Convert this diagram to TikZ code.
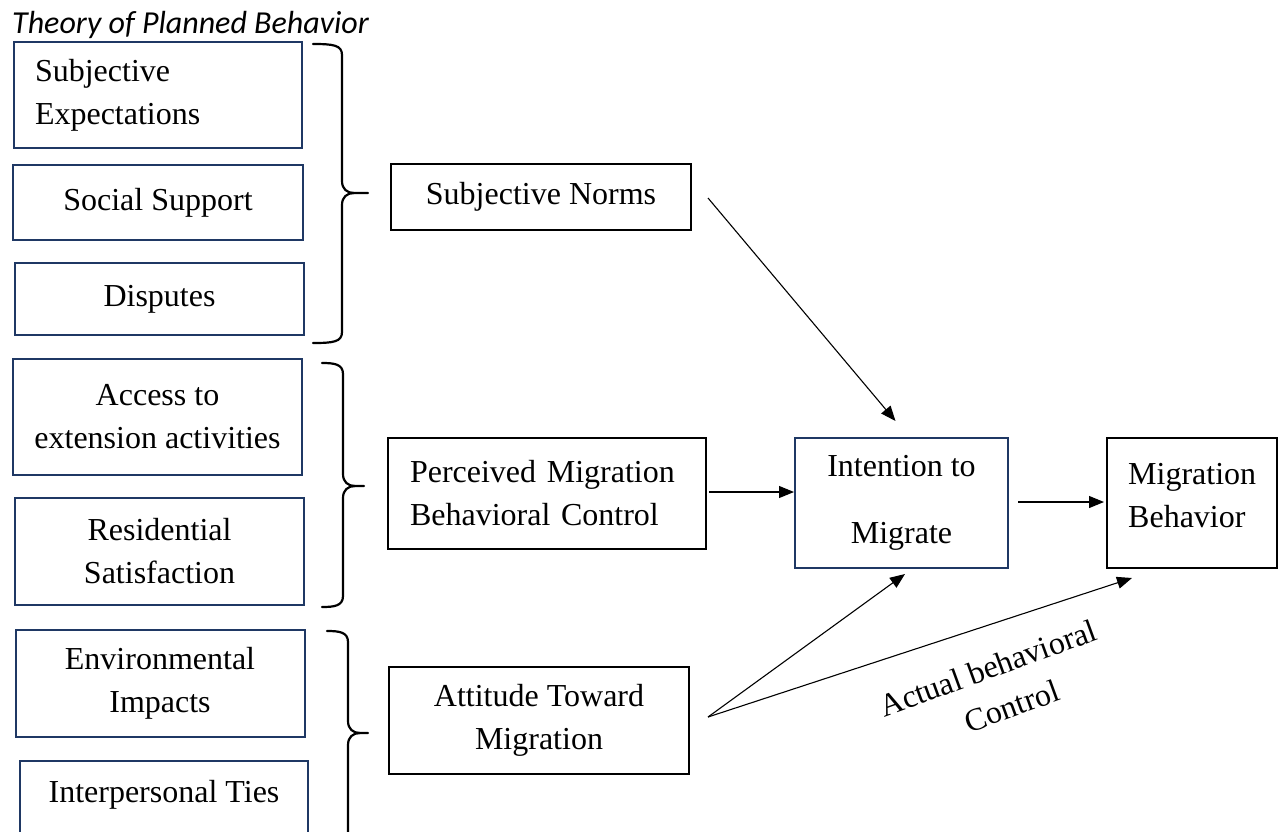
\documentclass[tikz,border=0pt]{standalone}
\usepackage{fontspec}
\setmainfont{Liberation Serif}
\newfontfamily\titlefont{Carlito}
\usetikzlibrary{arrows.meta,calc}
\definecolor{navy}{HTML}{1F3864}
\newcommand{\tpbrace}[6]{%
  \draw[bracestyle] (#1,#4) .. controls (#2-9,#4) and (#2,#4+1) .. (#2,#4+11)
     -- (#2,#5-12) .. controls (#2,#5-4) and (#2+5,#5) .. (#2+12,#5) -- (#3,#5);
  \draw[bracestyle] (#2+12,#5) .. controls (#2+5,#5) and (#2,#5+4) .. (#2,#5+12)
     -- (#2,#6-11) .. controls (#2,#6-1) and (#2-9,#6) .. (#1,#6);}
\begin{document}
\begin{tikzpicture}[x=1pt,y=-1pt,
  txt/.style={font=\fontsize{32}{43}\selectfont, inner sep=0pt},
  box/.style={txt, draw=black, line width=2pt, align=center},
  bbox/.style={box, draw=navy},
  arr/.style={-{Triangle[length=15pt,width=12pt]}, line width=1.1pt},
  bracestyle/.style={line width=2.2pt, line cap=round}]
\useasboundingbox (0,0) rectangle (1278,831);
\clip (0,0) rectangle (1278,831);

\node[anchor=base west, inner sep=0pt, font=\fontsize{32}{36}\selectfont] (title) at (12,33) {\titlefont\itshape Theory of Planned Behavior};

% left column
\node[bbox, minimum width=288, minimum height=106, text width=246, align=left] (se) at (158,95) {Subjective\\Expectations};
\node[bbox, minimum width=290, minimum height=75] (ss) at (158,202.5) {Social Support};
\node[bbox, minimum width=289, minimum height=72] (di) at (159.5,299) {Disputes};
\node[bbox, minimum width=289, minimum height=116] (ac) at (157.5,417) {Access to\\extension activities};
\node[bbox, minimum width=289, minimum height=107] (rs) at (159.5,551.5) {Residential\\Satisfaction};
\node[bbox, minimum width=289, minimum height=107] (en) at (160,683.5) {Environmental\\Impacts};
\node[bbox, minimum width=288, minimum height=100] (it) at (164,811) {};
\node[txt] (itt) at (164,795) {Interpersonal Ties};

% braces
\tpbrace{313}{342}{368}{44}{193}{343}
\tpbrace{322}{343}{364}{363}{486}{607}
\tpbrace{327}{348}{368}{631}{733}{860}

% middle column
\node[box, minimum width=300, minimum height=66] (sn) at (541,197) {Subjective Norms};
\node[box, minimum width=318, minimum height=111, text width=274, align=left] (pm) at (547,493) {Perceived Migration\\Behavioral Control};
\node[box, minimum width=300, minimum height=107] (at) at (539,720) {Attitude Toward\\Migration};

% right column
\node[bbox, minimum width=213, minimum height=130] (im) at (901.5,503) {Intention to\\[24pt]Migrate};
\node[box, minimum width=170, minimum height=130] (mb) at (1192,503) {};
\node[txt, anchor=west, align=left] (mbt) at (1128,496) {Migration\\Behavior};

% connectors
\draw[arr] ($(sn.east)+(16,1)$) -- ($(im.north)+(-6,-16)$);
\draw[arr] ($(pm.east)+(2,-1)$) -- ($(im.west)+(0,-11)$);
\draw[arr] ($(im.east)+(9,-1)$) -- ($(mb.west)+(-2,-1)$);
\draw[arr] ($(at.east)+(18,-3)$) coordinate (split) -- ($(im.south)+(3.5,5)$);
\draw[arr] (split) -- ($(mb.south)+(-60,9)$);

\node[txt, rotate=20] (abc1) at (988,668) {Actual behavioral};
\node[txt, rotate=20] (abc2) at (1012,706) {Control};
\end{tikzpicture}
\end{document}
